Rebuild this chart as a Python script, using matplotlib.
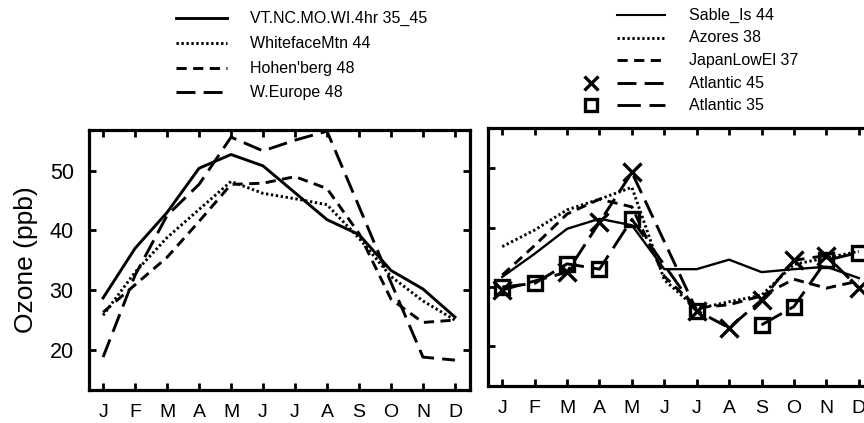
import numpy as np
import matplotlib
matplotlib.use('Agg')
import matplotlib.pyplot as plt
from matplotlib.lines import Line2D

plt.rcParams.update({
    'font.family': ['Liberation Sans', 'DejaVu Sans'],
})

months = ['J', 'F', 'M', 'A', 'M', 'J', 'J', 'A', 'S', 'O', 'N', 'D']
yticks = [20, 30, 40, 50]
nan = np.nan

# left panel
vt_nc = [28.7, 37.0, 43.0, 50.4, 52.7, 50.8, 46.3, 41.8, 39.3, 33.3, 30.2, 25.5]
whiteface = [25.8, 33.0, 38.8, 43.5, 48.2, 46.2, 45.3, 44.3, 38.7, 32.3, 28.2, 25.0]
hohenberg = [26.3, 30.9, 35.5, 41.5, 47.7, 47.9, 49.0, 47.0, 39.5, 28.5, 24.6, 25.0]
w_europe = [18.8, 32.5, 42.5, 47.7, 55.6, 53.3, 55.1, 56.6, 44.0, 31.3, 18.8, 18.3]

# right panel
sable = [31.7, 35.6, 39.8, 41.5, 40.4, 33.0, 33.0, 34.6, 32.5, 33.0, 33.4, 31.5]
azores = [36.8, 39.6, 43.0, 44.8, 46.8, 31.2, 26.3, 27.5, 28.6, 33.8, 34.9, 36.0]
japan = [32.0, 37.0, 42.3, 44.8, 43.5, 31.8, 26.5, 27.0, 28.5, 31.3, 29.8, 31.0]
atl45 = [29.5, nan, 32.5, 40.9, 49.3, nan, 26.0, 23.1, 27.8, 34.5, 35.3, 29.8]
atl35 = [30.0, 30.6, 33.9, 33.0, 41.4, nan, 26.0, nan, 23.6, 26.7, 34.5, 35.8]

SOLID = '-'
DOTTED = (0, (0.8, 0.9))
SHORT = (0, (3.5, 2.2))
LONGDOT = (0, (6.5, 2.8))
LONG = (0, (8, 3))

x = np.arange(12)

fig = plt.figure(figsize=(8.64, 4.23), dpi=100)
axl = fig.add_axes([89 / 864, 1 - 390 / 423, 381 / 864, 260 / 423])
axr = fig.add_axes([488 / 864, 1 - 386 / 423, 386 / 864, 258 / 423])


def valid(vals, sl=slice(None)):
    v = np.array(vals, dtype=float)[sl]
    xx = x[sl]
    m = ~np.isnan(v)
    return xx[m], v[m]


axl.plot(x, vt_nc, color='k', lw=2.1, ls=SOLID)
axl.plot(x, whiteface, color='k', lw=2.1, ls=DOTTED)
axl.plot(x, hohenberg, color='k', lw=2.1, ls=SHORT)
axl.plot(x, w_europe, color='k', lw=2.1, ls=LONGDOT)

axr.plot(x, sable, color='k', lw=1.7, ls=SOLID)
axr.plot(x, azores, color='k', lw=2.1, ls=DOTTED)
axr.plot(x, japan, color='k', lw=2.1, ls=SHORT)
xa, ya = valid(atl45)
axr.plot(xa, ya, color='k', lw=2.1, ls=LONGDOT, marker='x',
         ms=12.5, mew=2.4)
for sl in (slice(0, 7), slice(8, 12)):
    xs, ys = valid(atl35, sl)
    axr.plot(xs, ys, color='k', lw=2.1, ls=LONG, marker='s', ms=10.5,
             mew=2.4, mfc='none')

for ax in (axl, axr):
    ax.set_xlim(-0.44, 11.47)
    ax.set_ylim(13.3, 56.8)
    ax.set_xticks(x)
    ax.set_xticklabels(months, fontsize=14)
    ax.set_yticks(yticks)
    ax.tick_params(axis='x', direction='in', length=5, width=2,
                   top=True, pad=10)
    ax.tick_params(axis='y', direction='in', length=5, width=2,
                   right=True, pad=11, labelsize=15.5)
    for s in ax.spines.values():
        s.set_linewidth(2.3)
axr.set_yticklabels([])
axl.set_ylabel('Ozone (ppb)', fontsize=19, labelpad=8)

# legends drawn in pixel positions
H = 423.0
W = 864.0


def legend_row(x0, x1, xt, y, ls, label, lw=2.1, marker=None, xm=None):
    fig.add_artist(Line2D([x0 / W, x1 / W], [1 - y / H, 1 - y / H],
                          color='k', lw=lw, ls=ls))
    if marker is not None:
        fig.add_artist(Line2D([xm / W], [1 - y / H], color='k',
                              marker=marker, ms=10 if marker == 'x' else 8.5,
                              mew=2.4, mfc='none', ls='none'))
    fig.text(xt / W, 1 - y / H, label, fontsize=11.5, va='center',
             ha='left')


legend_row(176, 227, 250, 18, SOLID, 'VT.NC.MO.WI.4hr 35_45')
legend_row(176, 227, 250, 43, DOTTED, 'WhitefaceMtn 44')
legend_row(176, 227, 250, 68, SHORT, "Hohen'berg 48")
legend_row(176, 227, 250, 92, LONGDOT, 'W.Europe 48')

legend_row(617, 665, 689, 15, SOLID, 'Sable_Is 44', lw=1.5)
legend_row(617, 665, 689, 38, DOTTED, 'Azores 38')
legend_row(617, 665, 689, 60, SHORT, 'JapanLowEl 37')
legend_row(617, 665, 689, 83, LONGDOT, 'Atlantic 45', marker='x', xm=591)
legend_row(617, 665, 689, 105, LONG, 'Atlantic 35', marker='s', xm=591)

fig.savefig('out.png', dpi=100)
